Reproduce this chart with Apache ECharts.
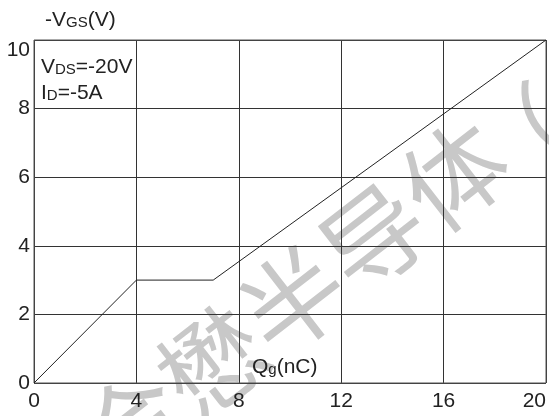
<!DOCTYPE html>
<html>
<head>
<meta charset="utf-8">
<script src="https://cdn.jsdelivr.net/npm/echarts@6/dist/echarts.min.js"></script>
<style>
  html, body { margin: 0; padding: 0; background: #fff; }
  #chart { width: 549px; height: 416px; }
</style>
</head>
<body>
<div id="chart"></div>
<script>
// Gate charge characteristic: -VGS versus Qg
const qgTicks = [0, 4, 8, 12, 16, 20];
const vgsTicks = [0, 2, 4, 6, 8, 10];
const qg = [0, 4, 7, 20];          // gate charge, nC
const vgs = [0, 3, 3, 10];         // -VGS, V

const FONT = '"Liberation Sans", Arial, sans-serif';
const CJK = '"Noto Sans CJK SC", sans-serif';
const chart = echarts.init(document.getElementById('chart'), null, { renderer: 'canvas' });

const richStyles = {
  m: { fontSize: 21, fontFamily: FONT, fill: '#222', verticalAlign: 'bottom' },
  s: { fontSize: 15, fontFamily: FONT, fill: '#222', verticalAlign: 'bottom', padding: [0, 0, 1, 0] }
};

// light company-name stamp behind the plot
const stampStyle = { fill: '#c8c8c8', fontSize: 102, fontFamily: CJK, textAlign: 'center', textVerticalAlign: 'middle' };

chart.setOption({
  animation: false,
  backgroundColor: '#ffffff',
  grid: {
    left: 34, right: 3, top: 40, bottom: 33,
    outerBoundsMode: 'none', containLabel: false,
    show: true, borderColor: '#555', borderWidth: 1, z: 2
  },
  xAxis: {
    type: 'value', min: qgTicks[0], max: qgTicks[qgTicks.length - 1], interval: 4,
    axisLine: { show: false }, axisTick: { show: false },
    splitLine: { show: true, lineStyle: { color: '#333', width: 1 } },
    axisLabel: { color: '#222', fontSize: 21, fontFamily: FONT, margin: 8, alignMaxLabel: 'right' }
  },
  yAxis: {
    type: 'value', min: vgsTicks[0], max: vgsTicks[vgsTicks.length - 1], interval: 2,
    axisLine: { show: false }, axisTick: { show: false },
    splitLine: { show: true, lineStyle: { color: '#333', width: 1 } },
    axisLabel: { color: '#222', fontSize: 21, fontFamily: FONT, margin: 4, verticalAlignMaxLabel: 'top' }
  },
  graphic: [
    {
      type: 'text', z: -10, x: 293, y: 300, rotation: 0.66,
      style: Object.assign({ text: '合懋半导体' }, stampStyle)
    },
    {
      type: 'text', z: -10, x: 520, y: 144, rotation: 0.66,
      style: Object.assign({ text: '（' }, stampStyle)
    },
    {
      type: 'text', z: 20, x: 45, y: 10,
      style: { text: '{m|-V}{s|GS}{m|(V)}', rich: richStyles }
    },
    {
      type: 'text', z: 20, x: 41, y: 52,
      style: { text: '{m|V}{s|DS}{m|=-20V}\n{m|I}{s|D}{m|=-5A}', lineHeight: 26, rich: {
        m: Object.assign({ lineHeight: 26 }, richStyles.m),
        s: Object.assign({ lineHeight: 26 }, richStyles.s)
      } }
    },
    {
      type: 'text', z: 20, x: 252, y: 357,
      style: { text: '{m|Q}{s|g}{m|(nC)}', rich: richStyles }
    }
  ],
  series: [{
    type: 'line', z: 10,
    data: qg.map((q, i) => [q, vgs[i]]),
    showSymbol: false, symbol: 'none',
    lineStyle: { color: '#222', width: 1 }
  }]
});
</script>
</body>
</html>
